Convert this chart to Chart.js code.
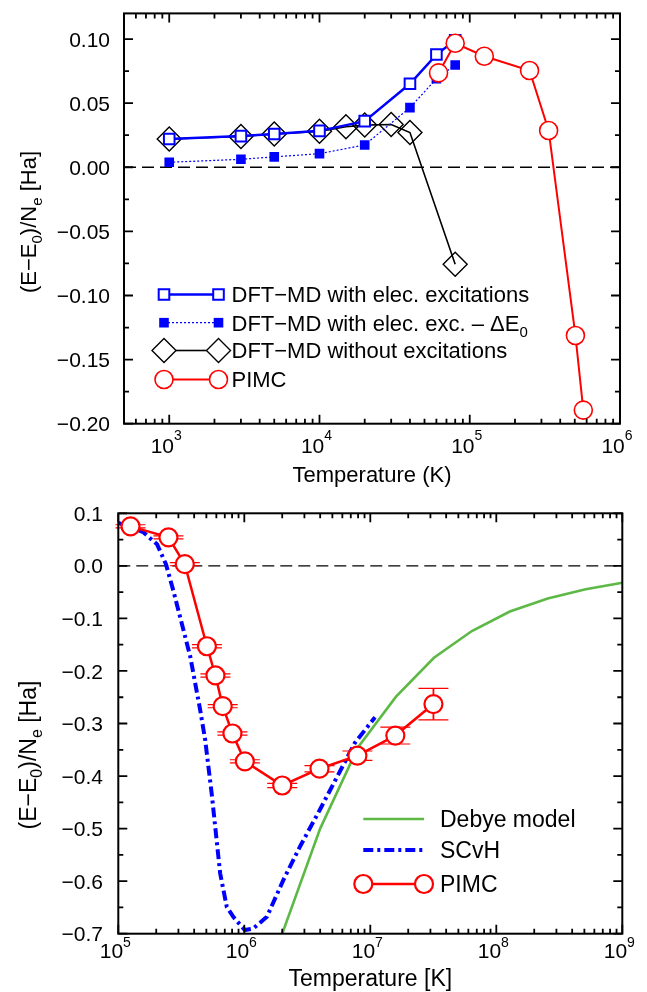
<!DOCTYPE html>
<html>
<head>
<meta charset="utf-8">
<script src="https://cdn.jsdelivr.net/npm/chart.js@4.4.1/dist/chart.umd.min.js"></script>
<style>
  body { margin: 0; background: #fff; }
  canvas { display: block; }
</style>
</head>
<body>
<canvas id="chart-top" width="647" height="490"></canvas>
<canvas id="chart-bottom" width="647" height="502"></canvas>
<script>
// ---- upper panel: DFT-MD vs PIMC, low temperatures ----
const tempExc = [1000, 3000, 5000, 10000, 20000, 40000, 60000, 80000];
const eExc = [0.022, 0.0243, 0.0259, 0.0284, 0.036, 0.0651, 0.0879, 0.099];

const tempExcShift = [1000, 3000, 5000, 10000, 20000, 40000, 60000, 80000];
const eExcShift = [0.0039, 0.0062, 0.0081, 0.0106, 0.0174, 0.0465, 0.069, 0.0798];

const tempNoExc = [1000, 3000, 5000, 10000, 15000, 20000, 30000, 40000, 80000];
const eNoExc = [0.022, 0.024, 0.026, 0.028, 0.0316, 0.0329, 0.0333, 0.0271, -0.0757];

const tempPimcTop = [62000, 80000, 125000, 250000, 335000, 505000, 570000];
const ePimcTop = [0.0736, 0.0967, 0.0866, 0.0755, 0.0287, -0.1312, -0.1894];

const topXExp = ['3', '4', '5', '6'];
const topYTicks = [0.10, 0.05, 0, -0.05, -0.10, -0.15, -0.20];
const topYLabels = ['0.10', '0.05', '0.00', '\u22120.05', '\u22120.10', '\u22120.15', '\u22120.20'];
const topYMinor = [0.075, 0.025, -0.025, -0.075, -0.125, -0.175];

// ---- lower panel: PIMC vs SCvH and Debye model ----
const tempDebye = [2e6, 4e6, 8e6, 1.6e7, 3.2e7, 6.4e7, 1.28e8, 2.56e8, 5.12e8, 1e9];
const eDebye = [-0.70, -0.50, -0.345, -0.249, -0.175, -0.124, -0.087, -0.062, -0.0445, -0.032];

const tempScvh = [1e5, 1.58e5, 2.03e5, 2.39e5, 2.74e5, 3.2e5, 3.72e5, 4.47e5, 4.89e5, 5.52e5, 6.43e5,
  7.26e5, 8.18e5, 1.01e6, 1.18e6, 1.51e6, 2.04e6, 2.77e6, 3.98e6, 7.54e6, 1.09e7];
const eScvh = [0.082, 0.064, 0.041, 0.003, -0.048, -0.111, -0.172, -0.275, -0.331, -0.435, -0.585,
  -0.649, -0.668, -0.693, -0.690, -0.668, -0.598, -0.534, -0.464, -0.337, -0.288];

const tempPimc = [1.25e5, 2.5e5, 3.37e5, 5.05e5, 5.9e5, 6.74e5, 8.05e5, 1.01e6, 2.0e6, 3.95e6, 7.9e6, 1.58e7, 3.17e7];
const ePimc = [0.0752, 0.0542, 0.0032, -0.153, -0.2086, -0.267, -0.319, -0.372, -0.418, -0.386, -0.3613, -0.323, -0.263];
const errPimc = [0.003, 0.003, 0.003, 0.003, 0.003, 0.003, 0.003, 0.003, 0.004, 0.006, 0.009, 0.016, 0.03];

const botXExp = ['5', '6', '7', '8', '9'];
const botYTicks = [0.1, 0, -0.1, -0.2, -0.3, -0.4, -0.5, -0.6, -0.7];
const botYLabels = ['0.1', '0.0', '\u22120.1', '\u22120.2', '\u22120.3', '\u22120.4', '\u22120.5', '\u22120.6', '\u22120.7'];
const botYMinor = [0.05, -0.05, -0.15, -0.25, -0.35, -0.45, -0.55, -0.65];

const FONT = '"Liberation Sans", Arial, Helvetica, sans-serif';
const BLUE = '#0000ff', RED = '#ff0000', GREEN = '#5cb946', BLACK = '#000000';

const yTitle = [['(E\u2212E'], ['0', 'sub'], [')/N'], ['e', 'sub'], [' [Ha]']];

const toPoints = (xs, ys) => xs.map((x, i) => ({ x, y: ys[i] }));

function logMinorTicks(min, max) {
    const out = [];
    for (let d = Math.floor(Math.log10(min)); d < Math.ceil(Math.log10(max)); d++) {
        for (let m = 2; m <= 9; m++) {
            const v = m * Math.pow(10, d);
            if (v > min * 1.001 && v < max * 0.999) out.push(v);
        }
    }
    return out;
}

// text made of pieces, some of them sub- or superscript
function fontFor(p, size) {
    return (p[1] ? Math.round(size * 0.68) : size) + 'px ' + FONT;
}
function drawRich(ctx, parts, x, y, size, align, supRise) {
    let w = 0;
    parts.forEach(p => { ctx.font = fontFor(p, size); w += ctx.measureText(p[0]).width; });
    let cx = align === 'center' ? x - w / 2 : align === 'right' ? x - w : x;
    ctx.textAlign = 'left';
    ctx.textBaseline = 'alphabetic';
    parts.forEach(p => {
        ctx.font = fontFor(p, size);
        const dy = p[1] === 'sub' ? size * 0.28 : p[1] === 'sup' ? -(supRise || size * 0.55) : 0;
        ctx.fillText(p[0], cx, y + dy);
        cx += ctx.measureText(p[0]).width;
    });
}

function drawMarker(ctx, style, x, y, r, fill, stroke, lw) {
    if (!style || !r) return;
    ctx.beginPath();
    if (style === 'circle') ctx.arc(x, y, r, 0, Math.PI * 2);
    else if (style === 'rect') { const h = r * Math.SQRT1_2; ctx.rect(x - h, y - h, 2 * h, 2 * h); }
    else if (style === 'rectRot') { ctx.moveTo(x - r, y); ctx.lineTo(x, y - r); ctx.lineTo(x + r, y); ctx.lineTo(x, y + r); ctx.closePath(); }
    ctx.fillStyle = fill;
    ctx.fill();
    if (lw > 0) { ctx.setLineDash([]); ctx.lineWidth = lw; ctx.strokeStyle = stroke; ctx.stroke(); }
}

// frame, inward ticks on all sides, labels, zero line, error bars and legend
function framePlugin(cfg) {
    return {
        id: 'frame_' + cfg.name,
        beforeDatasetsDraw(chart) {
            const { ctx, chartArea: a } = chart;
            const xs = chart.scales.x, ys = chart.scales.y;
            ctx.save();
            const y0 = ys.getPixelForValue(0);
            ctx.strokeStyle = BLACK;
            ctx.lineWidth = 1.4;
            ctx.setLineDash([12, 6]);
            ctx.beginPath(); ctx.moveTo(a.left, y0); ctx.lineTo(a.right, y0); ctx.stroke();
            ctx.setLineDash([]);
            if (cfg.errors) {
                const e = cfg.errors;
                ctx.strokeStyle = e.color;
                e.x.forEach((xv, i) => {
                    const px = xs.getPixelForValue(xv);
                    const top = ys.getPixelForValue(e.y[i] + e.err[i]);
                    const bot = ys.getPixelForValue(e.y[i] - e.err[i]);
                    ctx.lineWidth = 1.8;
                    ctx.beginPath(); ctx.moveTo(px, top); ctx.lineTo(px, bot); ctx.stroke();
                    ctx.lineWidth = 1.2;
                    ctx.beginPath();
                    ctx.moveTo(px - e.cap, top); ctx.lineTo(px + e.cap, top);
                    ctx.moveTo(px - e.cap, bot); ctx.lineTo(px + e.cap, bot);
                    ctx.stroke();
                });
            }
            ctx.restore();
        },
        afterDatasetsDraw(chart) {
            const { ctx, chartArea: a } = chart;
            const xs = chart.scales.x, ys = chart.scales.y;
            ctx.save();
            ctx.strokeStyle = BLACK;
            ctx.lineWidth = 2;
            ctx.strokeRect(a.left, a.top, a.right - a.left, a.bottom - a.top);

            ctx.lineWidth = 1.8;
            ctx.beginPath();
            const xTick = (v, len) => {
                const p = xs.getPixelForValue(v);
                ctx.moveTo(p, a.bottom); ctx.lineTo(p, a.bottom - len);
                ctx.moveTo(p, a.top); ctx.lineTo(p, a.top + len);
            };
            const yTick = (v, len) => {
                const p = ys.getPixelForValue(v);
                ctx.moveTo(a.left, p); ctx.lineTo(a.left + len, p);
                ctx.moveTo(a.right, p); ctx.lineTo(a.right - len, p);
            };
            cfg.xMajor.forEach(v => xTick(v, 9));
            logMinorTicks(xs.min, xs.max).forEach(v => xTick(v, 5));
            cfg.yMajor.forEach(v => yTick(v, 9));
            cfg.yMinor.forEach(v => yTick(v, 5));
            ctx.stroke();

            ctx.fillStyle = BLACK;
            cfg.xMajor.forEach((v, i) => drawRich(ctx, [['10'], [cfg.xExp[i], 'sup']],
                xs.getPixelForValue(v) - 3, cfg.xLabelY, cfg.tickSize, 'center', cfg.supRise));
            cfg.yMajor.forEach((v, i) => drawRich(ctx, [[cfg.yLabels[i]]],
                cfg.yLabelX, ys.getPixelForValue(v) + cfg.tickSize * 0.36, cfg.tickSize, 'right'));

            drawRich(ctx, [[cfg.xTitle]], (a.left + a.right) / 2, cfg.xTitleY, cfg.titleSize, 'center');
            ctx.save();
            ctx.translate(cfg.yTitleX, cfg.yTitleCY);
            ctx.rotate(-Math.PI / 2);
            drawRich(ctx, yTitle, 0, 0, cfg.titleSize, 'center');
            ctx.restore();

            // legend, styled from the datasets themselves
            const lg = cfg.legend;
            lg.items.forEach((it, k) => {
                const ds = chart.data.datasets[it.ds];
                const y = lg.rows[k];
                const r = ds.pointRadius || 0;
                const open = ds.pointBackgroundColor === 'transparent';
                ctx.strokeStyle = ds.borderColor;
                ctx.lineWidth = ds.borderWidth;
                ctx.setLineDash(ds.borderDash || []);
                ctx.beginPath();
                ctx.moveTo(lg.x1 + (open ? r : 0), y);
                ctx.lineTo(lg.x2 - (open ? r : 0), y);
                ctx.stroke();
                [lg.x1, lg.x2].forEach(px => drawMarker(ctx, ds.pointStyle, px, y, r,
                    ds.pointBackgroundColor, ds.pointBorderColor, ds.pointBorderWidth));
                ctx.fillStyle = BLACK;
                drawRich(ctx, it.parts, lg.textX, y + lg.size * 0.36, lg.size, 'left');
            });
            ctx.restore();
        }
    };
}

const baseOptions = (padding, xMin, xMax, yMin, yMax) => ({
    responsive: false,
    animation: false,
    events: [],
    layout: { padding },
    scales: {
        x: { type: 'logarithmic', min: xMin, max: xMax, display: false },
        y: { type: 'linear', min: yMin, max: yMax, display: false }
    },
    plugins: { legend: { display: false }, tooltip: { enabled: false }, title: { display: false } }
});

new Chart(document.getElementById('chart-top'), {
    type: 'scatter',
    data: {
        datasets: [
            {
                label: 'DFT\u2212MD with elec. excitations',
                data: toPoints(tempExc, eExc), showLine: true, order: 1,
                borderColor: BLUE, borderWidth: 2.5,
                pointStyle: 'rect', pointRadius: 7.5, pointBorderWidth: 2,
                pointBorderColor: BLUE, pointBackgroundColor: '#ffffff'
            },
            {
                label: 'DFT\u2212MD with elec. exc. \u2013 \u0394E0',
                data: toPoints(tempExcShift, eExcShift), showLine: true, order: 2,
                borderColor: BLUE, borderWidth: 1.2, borderDash: [2, 2],
                pointStyle: 'rect', pointRadius: 6.8, pointBorderWidth: 0,
                pointBorderColor: BLUE, pointBackgroundColor: BLUE
            },
            {
                label: 'DFT\u2212MD without excitations',
                data: toPoints(tempNoExc, eNoExc), showLine: true, order: 3,
                borderColor: BLACK, borderWidth: 1.6,
                pointStyle: 'rectRot', pointRadius: 12, pointBorderWidth: 1.4,
                pointBorderColor: BLACK, pointBackgroundColor: 'transparent'
            },
            {
                label: 'PIMC',
                data: toPoints(tempPimcTop, ePimcTop), showLine: true, order: 0,
                borderColor: RED, borderWidth: 2,
                pointStyle: 'circle', pointRadius: 9, pointBorderWidth: 1.6,
                pointBorderColor: RED, pointBackgroundColor: '#ffffff'
            }
        ]
    },
    options: baseOptions({ left: 124, right: 27, top: 11, bottom: 66.3 }, 500, 1e6, -0.2, 0.12),
    plugins: [framePlugin({
        name: 'top',
        xMajor: [1e3, 1e4, 1e5, 1e6], xExp: topXExp,
        yMajor: topYTicks, yLabels: topYLabels, yMinor: topYMinor,
        tickSize: 21, supRise: 13, xLabelY: 453, yLabelX: 110,
        xTitle: 'Temperature (K)', xTitleY: 482, titleSize: 22,
        yTitleX: 36, yTitleCY: 222,
        legend: {
            x1: 164, x2: 218.5, textX: 231.5, size: 22,
            rows: [294.5, 322.7, 350.5, 379.5],
            items: [
                { ds: 0, parts: [['DFT\u2212MD with elec. excitations']] },
                { ds: 1, parts: [['DFT\u2212MD with elec. exc. \u2013 \u0394E'], ['0', 'sub']] },
                { ds: 2, parts: [['DFT\u2212MD without excitations']] },
                { ds: 3, parts: [['PIMC']] }
            ]
        }
    })]
});

new Chart(document.getElementById('chart-bottom'), {
    type: 'scatter',
    data: {
        datasets: [
            {
                label: 'Debye model',
                data: toPoints(tempDebye, eDebye), showLine: true, order: 2,
                borderColor: GREEN, borderWidth: 2.6, pointRadius: 0
            },
            {
                label: 'SCvH',
                data: toPoints(tempScvh, eScvh), showLine: true, order: 1,
                borderColor: BLUE, borderWidth: 4, borderDash: [10, 4, 3, 4], pointRadius: 0
            },
            {
                label: 'PIMC',
                data: toPoints(tempPimc, ePimc), showLine: true, order: 0,
                borderColor: RED, borderWidth: 2.5,
                pointStyle: 'circle', pointRadius: 9, pointBorderWidth: 2.2,
                pointBorderColor: RED, pointBackgroundColor: '#ffffff'
            }
        ]
    },
    options: baseOptions({ left: 118.3, right: 24.7, top: 23.3, bottom: 58.3 }, 1e5, 1e9, -0.7, 0.1),
    plugins: [framePlugin({
        name: 'bottom',
        xMajor: [1e5, 1e6, 1e7, 1e8, 1e9], xExp: botXExp,
        yMajor: botYTicks, yLabels: botYLabels, yMinor: botYMinor,
        tickSize: 21, supRise: 11, xLabelY: 468, yLabelX: 103,
        xTitle: 'Temperature [K]', xTitleY: 496, titleSize: 23,
        yTitleX: 36, yTitleCY: 265,
        errors: { x: tempPimc, y: ePimc, err: errPimc, color: RED, cap: 15 },
        legend: {
            x1: 363.3, x2: 424, textX: 440, size: 23,
            rows: [329, 360, 394],
            items: [
                { ds: 0, parts: [['Debye model']] },
                { ds: 1, parts: [['SCvH']] },
                { ds: 2, parts: [['PIMC']] }
            ]
        }
    })]
});
</script>
</body>
</html>
